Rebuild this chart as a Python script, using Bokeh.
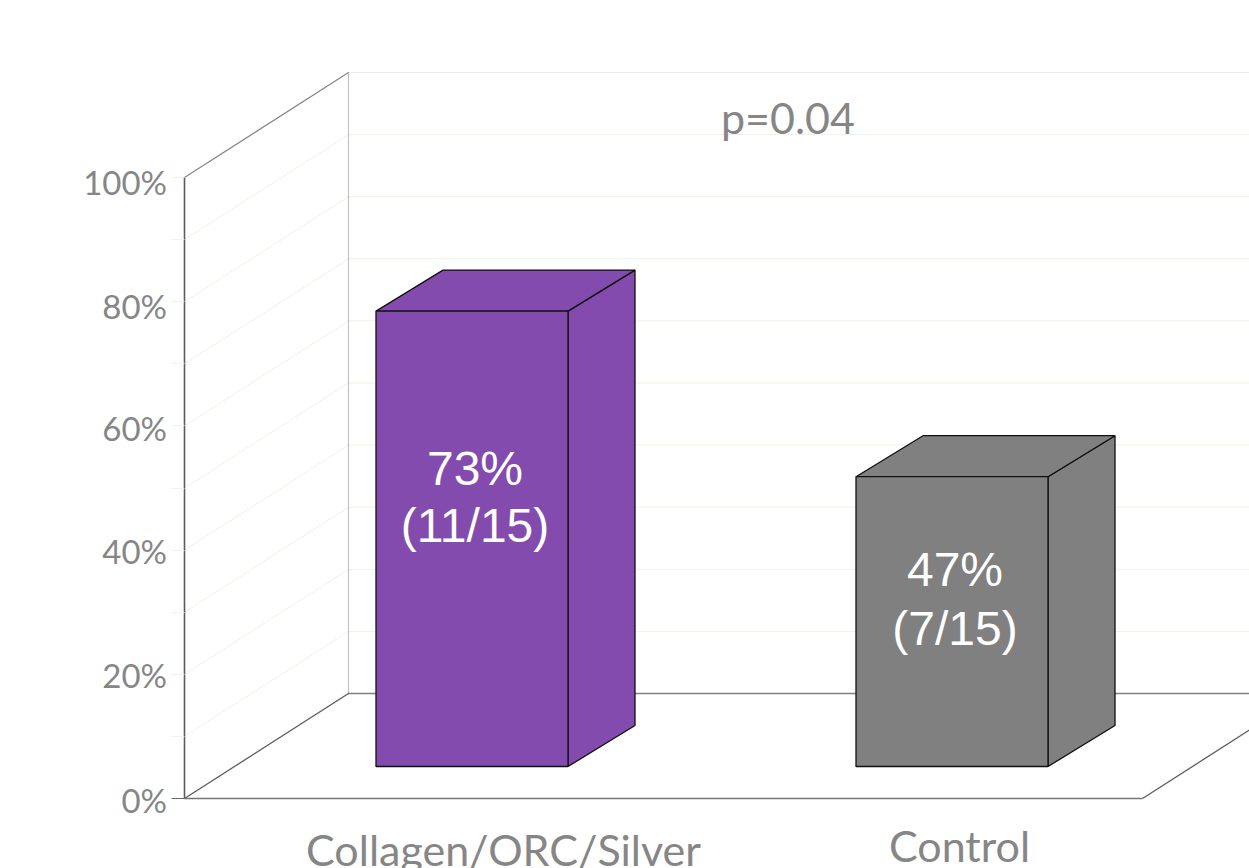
from bokeh.embed import file_html
from bokeh.models import FixedTicker, Label, LinearAxis, Range1d
from bokeh.plotting import figure
from bokeh.resources import INLINE

# Healed wounds per arm
categories = ["Collagen/ORC/Silver", "Control"]
responders = [11, 7]
patients = [15, 15]
bar_colors = ["#844BAE", "#808080"]

# Value axis
tick_values = [0, 20, 40, 60, 80, 100]
tick_labels = ["0%", "20%", "40%", "60%", "80%", "100%"]
grid_levels = [10, 20, 30, 40, 50, 60, 70, 80, 90, 100]
annotation = "p=0.04"

# Layout of the pseudo-3D box, x in page pixels and y in percent units
PX_PER_PCT = 6.21
BASELINE_PX = 798
PAGE_W, PAGE_H = 1249, 868
WALL_DX, WALL_DY = 164, 105 / PX_PER_PCT
BAR_DX, BAR_DY = 67, 41 / PX_PER_PCT
BAR_BASE = 32 / PX_PER_PCT
BAR_LEFT = [375.5, 855.5]
BAR_WIDTH = 192
X0, X1, FLOOR_END = 184, PAGE_W, 1142
TICK_LABEL_X = 166.5
TICK_LABEL_DROP = [1, 1, 1, 2, 4, 4]
TICK_FONT_SIZE = "33px"
CATEGORY_FONT_SIZE = "43px"
NOTE_FONT_SIZE = "43px"
BAR_FONT_SIZE = "48px"
INK = "#868686"
GRID = "#f1f1e6"
EDGE = "#101010"

percent = [100 * n / t for n, t in zip(responders, patients)]

p = figure(
    width=PAGE_W, height=PAGE_H, output_backend="svg", toolbar_location=None,
    x_range=Range1d(0, PAGE_W),
    y_range=Range1d(-(PAGE_H - BASELINE_PX) / PX_PER_PCT, BASELINE_PX / PX_PER_PCT),
    x_axis_type=None, y_axis_type=None,
    min_border_left=0, min_border_right=0, min_border_top=0, min_border_bottom=0,
    background_fill_color="white", border_fill_color="white", outline_line_color=None,
)
p.grid.visible = False


def page_y(pixel):
    """Percent-axis position of a distance from the top of the page."""
    return (BASELINE_PX - pixel) / PX_PER_PCT


def put_text(text, x, y, font, size, color, align="center"):
    p.add_layout(Label(text=text, x=x, y=y, text_align=align, text_baseline="middle",
                       text_font=font, text_font_size=size, text_color=color))


# Axes pinned to the front corner of the box; they carry the spine and tick stubs
y_axis = LinearAxis(
    fixed_location=X0,
    ticker=FixedTicker(ticks=[0], minor_ticks=grid_levels), bounds=(0, 100),
    axis_line_color="#5c5c5c", axis_line_width=1.6,
    major_tick_line_color="#666666", major_tick_out=13, major_tick_in=0,
    minor_tick_line_color=GRID, minor_tick_out=13, minor_tick_in=0,
    major_label_overrides={0: ""},
)
p.add_layout(y_axis, "left")
x_axis = LinearAxis(
    fixed_location=0,
    ticker=FixedTicker(ticks=[]), bounds=(X0, FLOOR_END),
    axis_line_color="#777777", axis_line_width=1.6,
    major_tick_line_color=None, minor_tick_line_color=None,
)
p.add_layout(x_axis, "below")

# Gridlines fold from the side wall onto the back wall
p.segment(x0=[X0] * len(grid_levels), y0=grid_levels,
          x1=[X0 + WALL_DX] * len(grid_levels), y1=[v + WALL_DY for v in grid_levels],
          line_color=GRID, line_width=1)
p.segment(x0=[X0 + WALL_DX] * 9, y0=[v + WALL_DY for v in grid_levels[:-1]],
          x1=[X1] * 9, y1=[v + WALL_DY for v in grid_levels[:-1]],
          line_color=GRID, line_width=1)

# Box edges
p.line([X0 + WALL_DX, X1], [100 + WALL_DY] * 2, line_color="#dddcd2", line_width=1, line_dash="1 1")
p.line([X0, X0 + WALL_DX], [100, 100 + WALL_DY], line_color="#858585", line_width=1.2)
p.line([X0 + WALL_DX] * 2, [WALL_DY, 100 + WALL_DY], line_color="#8a8a8a", line_width=1.2, line_dash="1 1")
p.line([X0 + WALL_DX, X1], [WALL_DY] * 2, line_color="#000000", line_width=1.5, line_dash="1 1")
p.line([X0, X0 + WALL_DX], [0, WALL_DY], line_color="#5c5c5c", line_width=1.3)
p.line([FLOOR_END, FLOOR_END + WALL_DX], [0, WALL_DY], line_color="#5c5c5c", line_width=1.3)

# Extruded bars: side and top faces behind the front face
lefts = BAR_LEFT
rights = [x + BAR_WIDTH for x in lefts]
tops = [BAR_BASE + v for v in percent]
p.patches(
    xs=[[r, r + BAR_DX, r + BAR_DX, r] for r in rights],
    ys=[[BAR_BASE, BAR_BASE + BAR_DY, t + BAR_DY, t] for t in tops],
    fill_color=bar_colors, line_color=EDGE, line_width=1.3,
)
p.patches(
    xs=[[l, l + BAR_DX, r + BAR_DX, r] for l, r in zip(lefts, rights)],
    ys=[[t, t + BAR_DY, t + BAR_DY, t] for t in tops],
    fill_color=bar_colors, line_color=EDGE, line_width=1.3,
)
p.quad(left=lefts, right=rights, bottom=[BAR_BASE] * 2, top=tops,
       fill_color=bar_colors, line_color=EDGE, line_width=1.3)

# Value axis labels
for tick, text, drop in zip(tick_values, tick_labels, TICK_LABEL_DROP):
    put_text(text, TICK_LABEL_X, tick - drop / PX_PER_PCT, "Lato", TICK_FONT_SIZE, INK, align="right")

# Category labels and the test result
put_text(categories[0], 503, page_y(849), "Lato", CATEGORY_FONT_SIZE, INK)
put_text(categories[1], 959, page_y(845), "Lato", CATEGORY_FONT_SIZE, INK)
put_text(annotation, 787.5, page_y(117), "Lato", NOTE_FONT_SIZE, INK)

# Values printed on the bar faces
centers = [l + BAR_WIDTH / 2 + 3 for l in lefts]
pct_y = [page_y(468), page_y(569)]
frac_y = [page_y(525), page_y(628)]
for cx, y0, y1, v, n, t in zip(centers, pct_y, frac_y, percent, responders, patients):
    put_text(f"{v:.0f}%", cx, y0, "Liberation Sans", BAR_FONT_SIZE, "white")
    put_text(f"({n}/{t})", cx, y1, "Liberation Sans", BAR_FONT_SIZE, "white")

open("out.html", "w").write(file_html(p, INLINE))
